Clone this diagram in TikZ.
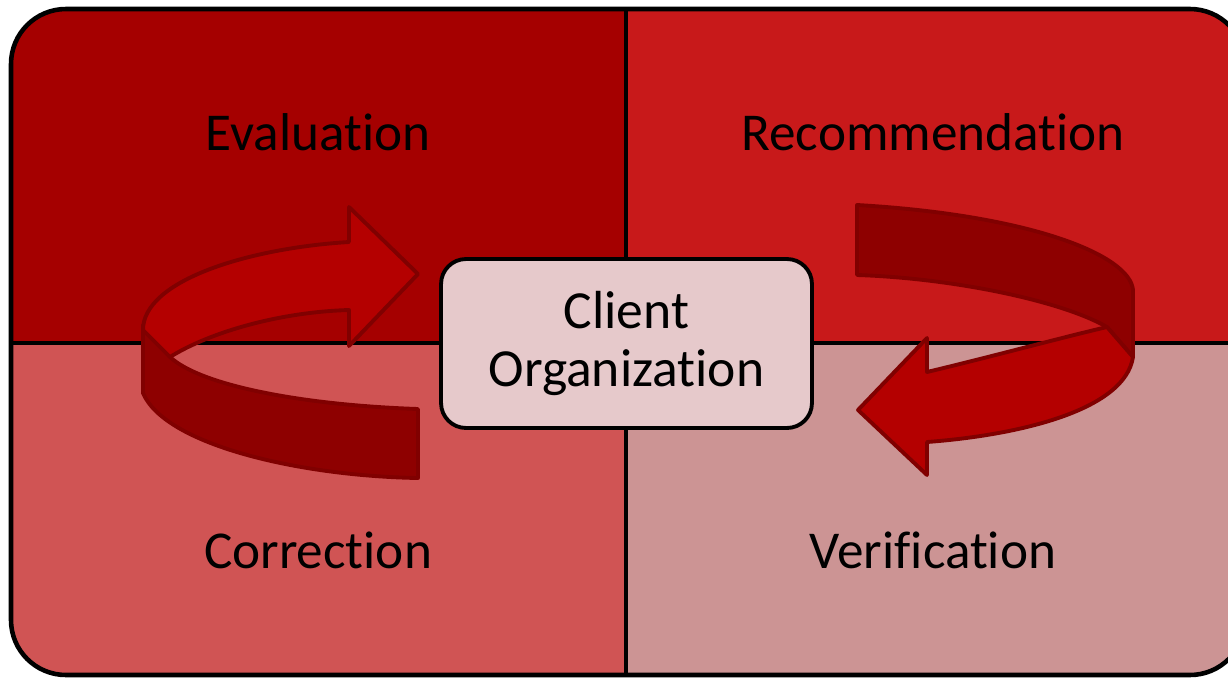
\documentclass[tikz,border=0pt]{standalone}
\usepackage{fontspec}
\setmainfont{Carlito}[Ligatures=NoCommon]
\usetikzlibrary{positioning}
\definecolor{evalred}{RGB}{165,0,0}
\definecolor{recred}{RGB}{200,25,26}
\definecolor{correred}{RGB}{208,84,84}
\definecolor{verired}{RGB}{204,148,148}
\definecolor{clientpink}{RGB}{230,201,203}
\definecolor{arrowtop}{RGB}{180,0,0}
\definecolor{arrowside}{RGB}{142,0,0}
\definecolor{arrowline}{RGB}{128,0,0}

\begin{document}
\begin{tikzpicture}[x=0.02cm, y=-0.02cm,
    quadtext/.style={font=\fontsize{30.3}{35}\selectfont, anchor=base},
    clientbox/.style={rectangle, rounded corners=0.5cm, draw, line width=2.2pt,
                fill=clientpink, minimum width=7.42cm, minimum height=3.38cm,
                align=center, font=\fontsize{30.5}{33}\selectfont},
    ribbon/.style={draw=arrowline, line width=2.2pt, line join=round}]

    \useasboundingbox (0,0) rectangle (1228,677);
    \clip (0,0) rectangle (1228,677);

    % quadrants
    \begin{scope}
        \clip[rounded corners=1.1cm] (11,9) rectangle (1245,675);
        \fill[evalred] (0,0) rectangle (626,343);
        \fill[recred] (626,0) rectangle (1250,343);
        \fill[correred] (0,343) rectangle (626,677);
        \fill[verired] (626,343) rectangle (1250,677);
    \end{scope}
    \draw[line width=2.8pt] (626,9) -- (626,675);
    \draw[line width=2.8pt] (11,343) -- (1245,343);
    \draw[line width=2.6pt, rounded corners=1.1cm] (11,9) rectangle (1245,675);

    % left arrow
    \draw[ribbon, fill=arrowside] (143,325) -- (143,393) .. controls (165,445) and (300,476) .. (418,478)
        -- (418,409) .. controls (300,405) and (200,385) .. (170,357) -- cycle;
    \draw[ribbon, fill=arrowtop] (170,357) .. controls (210,332) and (280,312) .. (349,310)
        -- (349,346) -- (418,274) -- (349,207) -- (349,242)
        .. controls (250,248) and (143,280) .. (143,330) -- cycle;

    % right arrow
    \draw[ribbon, fill=arrowside] (857,205) -- (857,275) .. controls (950,278) and (1060,300) .. (1107,327)
        -- (1133,357) -- (1133,290) .. controls (1130,255) and (1030,215) .. (857,205) -- cycle;
    \draw[ribbon, fill=arrowtop] (1107,327) -- (1133,357) .. controls (1125,410) and (1020,435) .. (927,442)
        -- (927,475) -- (858,410) -- (927,338) -- (927,372)
        .. controls (990,357) and (1060,338) .. (1107,327) -- cycle;

    \node[clientbox] (client) at (626.5,343.5) {Client\\Organization};

    \node[quadtext] (eval) at (318,150) {Evaluation};
    \node[quadtext] (recom) at (933,150) {Recommendation};
    \node[quadtext] (corr) at (318,568) {Correction};
    \node[quadtext] (verif) at (933,568) {Verification};
\end{tikzpicture}
\end{document}
